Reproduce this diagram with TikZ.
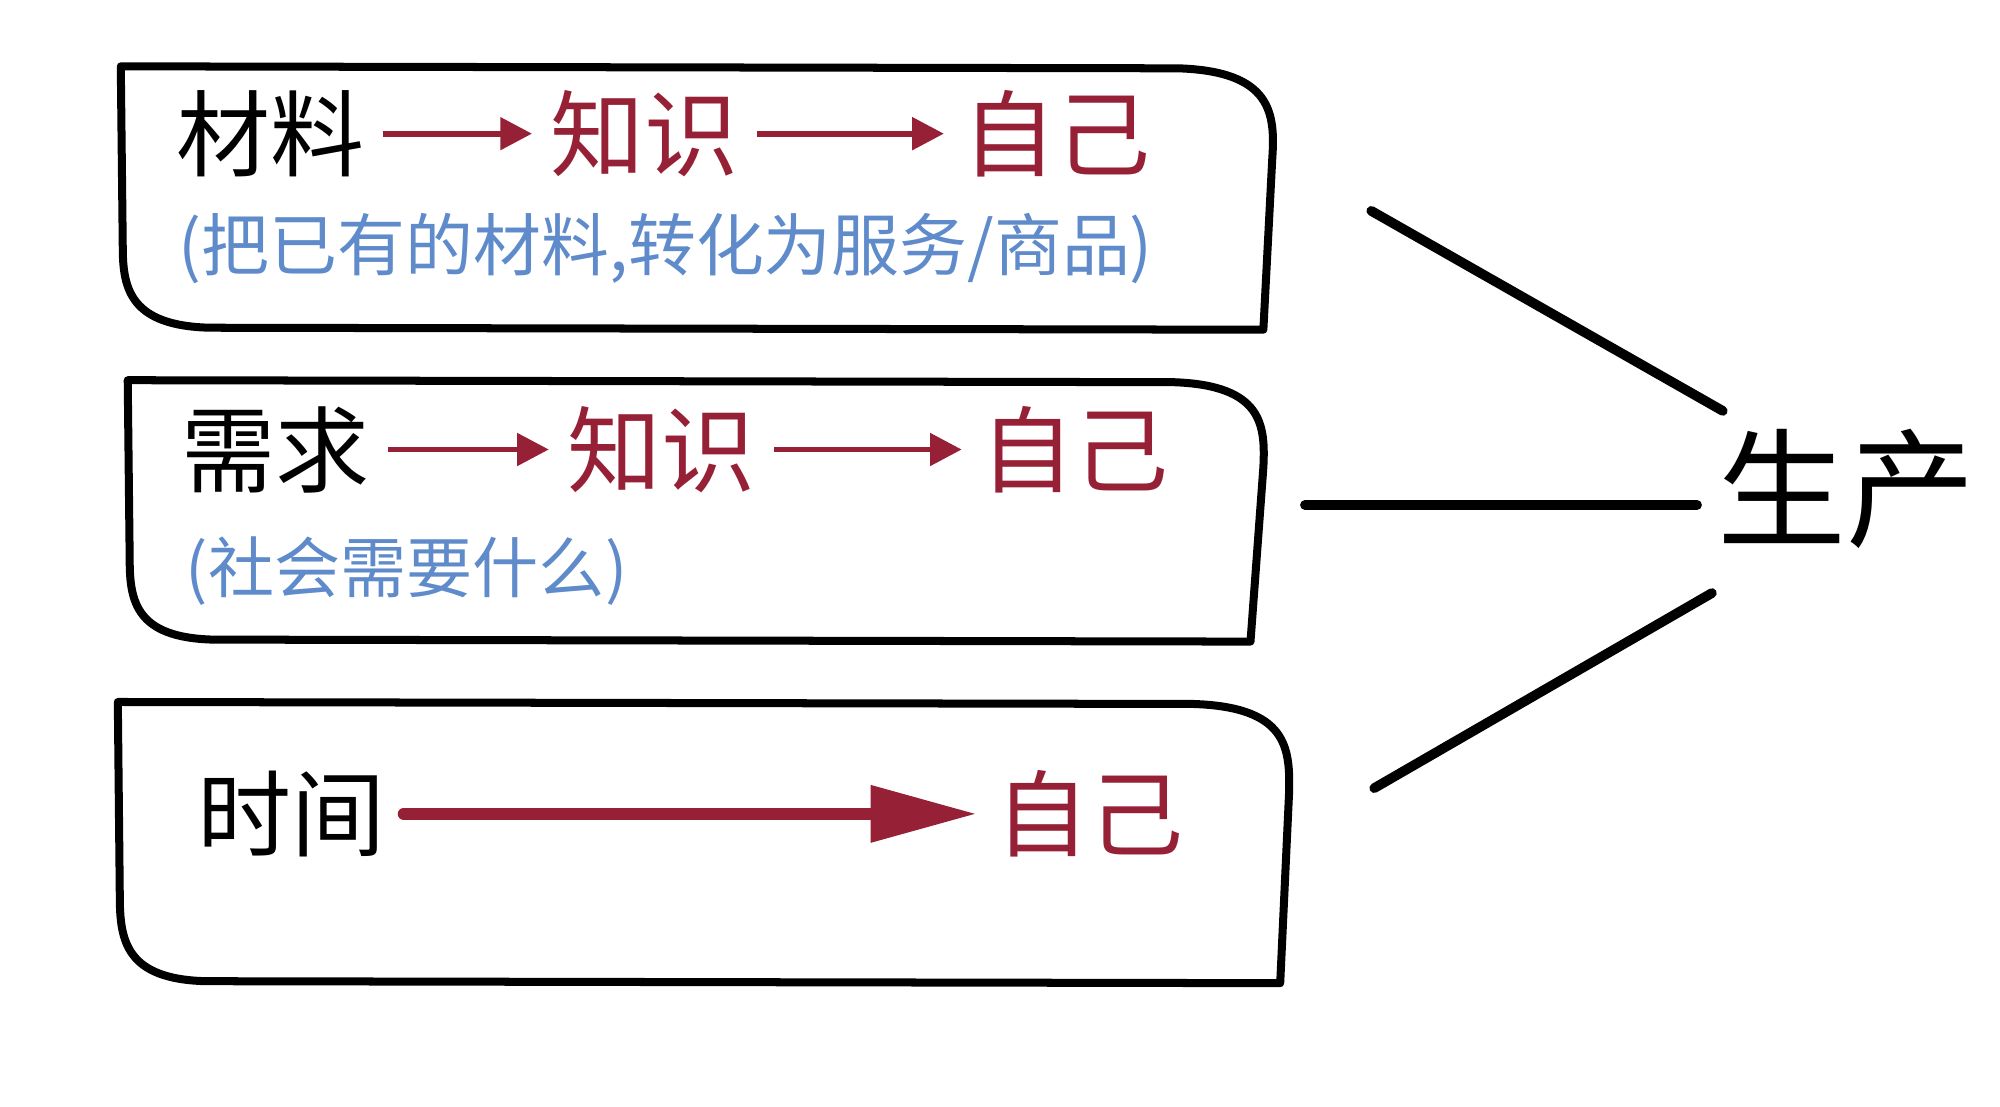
\documentclass[tikz,border=0pt]{standalone}
\usepackage{fontspec}
\setmainfont{Noto Sans CJK SC}
\usetikzlibrary{calc,positioning,arrows.meta}
\definecolor{wine}{HTML}{962035}
\definecolor{softblue}{HTML}{5F8BCB}
\tikzset{
  frame/.style={draw,line width=2.3pt,line join=round},
  word/.style={inner sep=0.18cm,font=\fontsize{27pt}{27pt}\selectfont},
  redword/.style={word,text=wine},
  note/.style={inner sep=0pt,anchor=west,text=softblue,font=\fontsize{19pt}{19pt}\selectfont},
  thin/.style={draw=wine,line width=1.7pt,-{Triangle[length=0.32cm,width=0.32cm]}},
  thick/.style={draw=wine,line width=3.4pt,line cap=round,-{Triangle[length=1.07cm,width=0.55cm]}},
  spoke/.style={draw,line width=2.8pt,line cap=round}
}
\begin{document}
\begin{tikzpicture}[x=0.01cm,y=-0.01cm]
\useasboundingbox (0,0) rectangle (2020,1118);
% frames
\path[frame] (122,67) -- (1190,69) .. controls (1285,72) and (1288,115) .. (1285,160)
  -- (1276,333) -- (212,331) .. controls (132,329) and (124,292) .. (124,250) -- cycle;
\path[frame] (129,384) -- (1185,386) .. controls (1276,389) and (1278,430) .. (1276,472)
  -- (1263,648) -- (215,646) .. controls (138,644) and (131,608) .. (131,566) -- cycle;
\path[frame] (119,709) -- (1205,711) .. controls (1300,714) and (1303,755) .. (1302,800)
  -- (1293,993) -- (208,991) .. controls (127,989) and (121,950) .. (121,905) -- cycle;
% row 1
\node(m1) at (273,135) [word] {材料};
\node(k1) at (651,135) [redword] {知识};
\node(s1) at (1067,135) [redword] {自己};
\node(n1) at (180,251) [note,font=\fontsize{19.5pt}{19.5pt}\selectfont] {(把已有的材料,转化为服务/商品)};
% row 2
\node(m2) at (278,454) [word] {需求};
\node(k2) at (668,454) [redword] {知识};
\node(s2) at (1085,454) [redword] {自己};
\node(n2) at (187,577) [note] {(社会需要什么)};
% row 3
\node(m3) at (294,822) [word] {时间};
\node(s3) at (1100,822) [redword] {自己};
\path
(m1) edge [thin] (k1)
(k1) edge [thin] (s1)
(m2) edge [thin] (k2)
(k2) edge [thin] (s2)
(m3) edge [thick] (s3);
% right side
\node(prod) at (1865,494) [inner sep=0pt,font=\fontsize{37pt}{37pt}\selectfont] {生产};
\coordinate(a1) at (1385,213);
\coordinate(b1) at (1740,415);
\coordinate(a2) at (1318,510);
\coordinate(b2) at (1714,510);
\coordinate(a3) at (1388,796);
\coordinate(b3) at (1729,599);
\path[spoke] (a1) -- (b1);
\path[spoke] (a2) -- (b2);
\path[spoke] (a3) -- (b3);
\end{tikzpicture}
\end{document}
